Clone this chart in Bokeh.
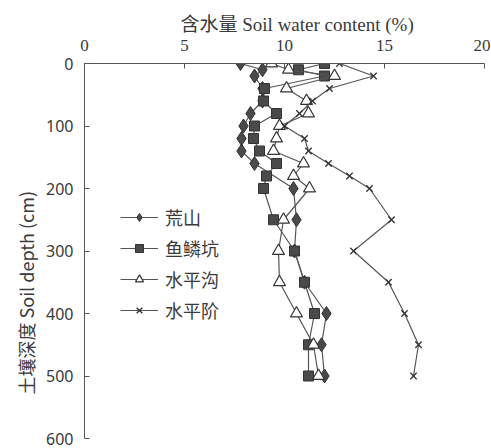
from bokeh.plotting import figure
from bokeh.models import Range1d, Legend, LegendItem, FixedTicker, Title, LinearAxis
from bokeh.embed import file_html
from bokeh.resources import INLINE

# Soil depth (cm) and soil water content (%) for four site types
depth_hs = [0, 10, 20, 40, 60, 80, 100, 120, 140, 160, 200, 250, 300, 350, 400, 450, 500]
water_hs = [7.8, 8.9, 8.5, 8.9, 8.9, 8.3, 7.95, 7.85, 7.85, 8.5, 10.45, 10.6, 10.5, 11.0, 12.1, 11.85, 12.0]

depth_yl = [0, 10, 20, 40, 60, 80, 100, 120, 140, 160, 180, 200, 250, 300, 350, 400, 450, 500]
water_yl = [12.0, 10.7, 12.0, 9.0, 8.95, 9.6, 8.5, 8.45, 8.75, 9.6, 9.1, 8.95, 9.45, 10.5, 11.0, 11.5, 11.2, 11.2]

depth_sg = [0, 10, 20, 40, 60, 80, 100, 120, 140, 160, 180, 200, 250, 300, 350, 400, 450, 500]
water_sg = [9.35, 10.2, 12.5, 10.1, 11.1, 11.2, 9.75, 9.6, 9.45, 10.95, 10.45, 11.25, 9.95, 9.7, 9.75, 10.6, 11.45, 11.7]

depth_sj = [0, 20, 40, 60, 80, 100, 120, 140, 160, 180, 200, 250, 300, 350, 400, 450, 500]
water_sj = [12.75, 14.45, 12.25, 11.4, 10.75, 10.0, 11.0, 11.2, 12.2, 13.25, 14.25, 15.35, 13.45, 15.2, 16.0, 16.7, 16.45]

names = ["荒山", "鱼鳞坑", "水平沟", "水平阶"]
x_ticks = [0, 5, 10, 15, 20]
y_ticks = [0, 100, 200, 300, 400, 500, 600]

x_title = "含水量  Soil water content (%)"
y_title = "土壤深度 Soil depth (cm)"

TXT = "#3a3a3a"
LN = "#555555"

p = figure(width=490, height=448, output_backend="svg", toolbar_location=None,
           x_axis_location="above",
           x_range=Range1d(0, 20), y_range=Range1d(600, 0),
           min_border_left=84, min_border_right=6, min_border_top=63, min_border_bottom=10)
p.outline_line_color = None
p.xgrid.visible = False
p.ygrid.visible = False
p.background_fill_color = "white"
p.border_fill_color = "white"

xa = p.xaxis[0]
xa.ticker = FixedTicker(ticks=x_ticks)
xa.minor_tick_line_color = None
xa.major_tick_in = 5
xa.major_tick_out = 0
xa.axis_line_color = LN
xa.major_tick_line_color = LN
xa.major_label_text_font = "Liberation Serif"
xa.major_label_text_font_size = "17px"
xa.major_label_text_color = TXT
xa.major_label_standoff = 13

ya = p.yaxis[0]
ya.ticker = FixedTicker(ticks=y_ticks)
ya.minor_tick_line_color = None
ya.major_tick_in = 5
ya.major_tick_out = 0
ya.axis_line_color = LN
ya.major_tick_line_color = LN
ya.major_label_text_font = "Noto Sans"
ya.major_label_text_font_size = "16px"
ya.major_label_text_color = TXT
ya.major_label_standoff = 11

# invisible spacer between the depth axis labels and the depth title
spacer = LinearAxis(ticker=FixedTicker(ticks=[]), axis_line_color=None, major_tick_line_color=None,
                    minor_tick_line_color=None, major_tick_in=0, major_tick_out=10,
                    major_label_standoff=0)
p.add_layout(spacer, "left")

r_hs_l = p.line(water_hs, depth_hs, line_color=LN, line_width=1.2)
r_hs_m = p.scatter(water_hs, depth_hs, marker="diamond", size=14, fill_color="#4a4a4a", line_color="#333333")

r_yl_l = p.line(water_yl, depth_yl, line_color=LN, line_width=1.2)
r_yl_m = p.scatter(water_yl, depth_yl, marker="square", size=10, fill_color="#4a4a4a", line_color="#333333")

r_sg_l = p.line(water_sg, depth_sg, line_color=LN, line_width=1.2)
r_sg_m = p.scatter(water_sg, depth_sg, marker="triangle", size=12, fill_color="white", line_color="#333333", line_width=1.2)

r_sj_l = p.line(water_sj, depth_sj, line_color=LN, line_width=1.2)
r_sj_m = p.scatter(water_sj, depth_sj, marker="x", size=9, line_color="#333333", line_width=1.3)

legend = Legend(items=[
    LegendItem(label=names[0], renderers=[r_hs_l, r_hs_m]),
    LegendItem(label=names[1], renderers=[r_yl_l, r_yl_m]),
    LegendItem(label=names[2], renderers=[r_sg_l, r_sg_m]),
    LegendItem(label=names[3], renderers=[r_sj_l, r_sj_m]),
], location=(36, 115))
legend.border_line_color = None
legend.background_fill_alpha = 0
legend.padding = 0
legend.margin = 0
legend.spacing = 5
legend.glyph_width = 38
legend.glyph_height = 20
legend.label_height = 20
legend.label_standoff = 7
legend.label_text_font = "Noto Sans CJK SC"
legend.label_text_font_size = "18px"
legend.label_text_color = TXT
p.add_layout(legend)

t_top = Title(text=x_title, align="right", offset=66, text_font="Liberation Serif, Noto Sans CJK SC",
              text_font_size="19px", text_font_style="normal", text_color=TXT, standoff=4)
p.add_layout(t_top, "above")
t_left = Title(text=y_title, align="left", offset=44, text_font="Noto Sans CJK SC",
               text_font_size="18px", text_font_style="normal", text_color=TXT, standoff=10)
p.add_layout(t_left, "left")

open("out.html", "w").write(file_html(p, INLINE))
